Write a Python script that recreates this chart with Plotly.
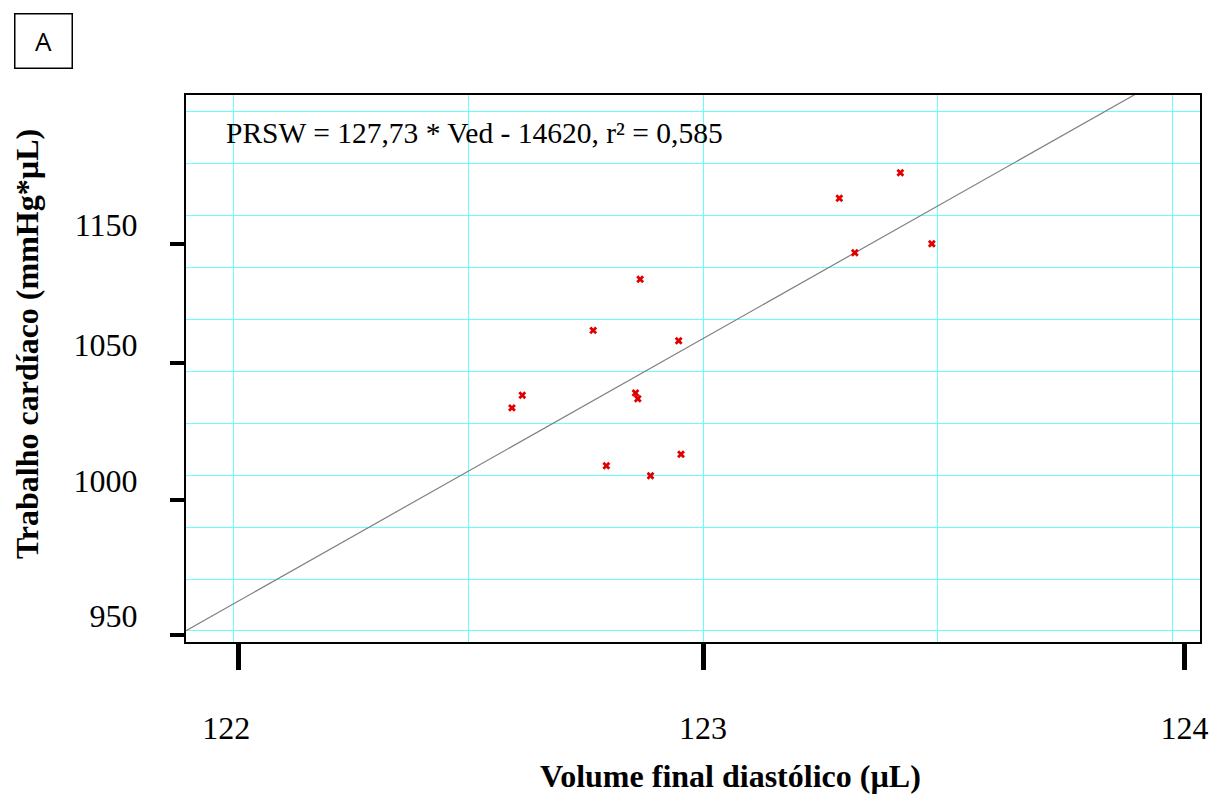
import plotly.graph_objects as go

# ---- data ----
ved = [122.593, 122.615, 122.766, 122.794, 122.856, 122.861, 122.866,
       122.888, 122.948, 122.953, 123.290, 123.323, 123.420, 123.487]
prsw = [1057.4, 1063.5, 1094.7, 1029.5, 1064.6, 1061.8, 1119.3,
        1024.7, 1089.7, 1035.1, 1158.3, 1132.1, 1170.6, 1136.4]

slope = 127.73
intercept = -14620.0
x_range = [121.899, 124.058]
y_range = [944.7, 1208.0]

x_tick_vals = [122.01, 123.0, 124.025]
x_tick_text = ["122\u00a0\u00a0\u00a0", "123", "124"]
y_tick_vals = [948.1, 1013.0, 1078.8, 1136.5]
y_tick_text = ["950", "1000", "1050", "1150"]

equation_text = "PRSW = 127,73 * Ved - 14620, r\u00b2 = 0,585"
x_title = "Volume final diast\u00f3lico (\u00b5L)"
y_title = "Trabalho card\u00edaco (mmHg*\u00b5L)"
panel_label = "A"

line_x = x_range
line_y = [slope * v + intercept for v in line_x]

SERIF = "Liberation Serif, Times New Roman, serif"
GRID = "#66ffff"

# plot-area geometry in pixels (for placing free text)
L, R, T, B = 186, 1207, 95, 642


def px_to_paper(px, py):
    return (px - L) / (R - L), (B - py) / (B - T)


fig = go.Figure()
fig.add_trace(go.Scatter(x=line_x, y=line_y, mode="lines",
                         line=dict(color="#808080", width=1.2),
                         hoverinfo="skip", showlegend=False))
fig.add_trace(go.Scatter(x=ved, y=prsw, mode="markers",
                         marker=dict(symbol="x", size=7, color="#e00000",
                                     line=dict(width=0)),
                         showlegend=False))

fig.update_layout(
    width=1220, height=794,
    margin=dict(l=L, r=1220 - R, t=T, b=794 - B),
    paper_bgcolor="white", plot_bgcolor="white",
    font=dict(family=SERIF, color="black"),
    showlegend=False,
)

fig.update_xaxes(
    range=x_range, showgrid=False, zeroline=False,
    showline=True, linecolor="black", linewidth=2, mirror=True,
    tickmode="array", tickvals=x_tick_vals, ticktext=x_tick_text,
    ticks="outside", ticklen=26, tickwidth=5, tickcolor="black",
    tickfont=dict(family=SERIF, size=32, color="black"),
    ticklabelstandoff=31,
    minor=dict(tick0=122, dtick=0.5, showgrid=True, gridcolor=GRID,
               gridwidth=1, ticks=""),
)
fig.update_yaxes(
    range=y_range, showgrid=False, zeroline=False,
    showline=True, linecolor="black", linewidth=2, mirror=True,
    tickmode="array", tickvals=y_tick_vals, ticktext=y_tick_text,
    ticks="outside", ticklen=14, tickwidth=4, tickcolor="black",
    tickfont=dict(family=SERIF, size=32, color="black"),
    ticklabelstandoff=26, ticklabelshift=-19,
    minor=dict(tick0=950, dtick=25, showgrid=True, gridcolor=GRID,
               gridwidth=1, ticks=""),
)

ex, ey = px_to_paper(224, 133)
fig.add_annotation(
    xref="paper", yref="paper", x=ex, y=ey,
    xanchor="left", yanchor="middle", showarrow=False,
    text=equation_text, font=dict(family=SERIF, size=29.5, color="black"),
)

tx, ty = px_to_paper(734.5, 776)
fig.add_annotation(
    xref="paper", yref="paper", x=tx, y=ty,
    xanchor="center", yanchor="middle", showarrow=False,
    text="<b>" + x_title + "</b>",
    font=dict(family=SERIF, size=32, color="black"),
)

yx, yy = px_to_paper(26, 344)
fig.add_annotation(
    xref="paper", yref="paper", x=yx, y=yy, textangle=-90,
    xanchor="center", yanchor="middle", showarrow=False,
    text="<b>" + y_title + "</b>",
    font=dict(family=SERIF, size=32, color="black"),
)

ax, ay = px_to_paper(43, 40.5)
fig.add_annotation(
    xref="paper", yref="paper", x=ax, y=ay,
    xanchor="center", yanchor="middle", showarrow=False,
    text=panel_label,
    font=dict(family="Open Sans, Liberation Sans, sans-serif", size=26, color="black"),
    bordercolor="black", borderwidth=1.5, width=56, height=53, borderpad=0,
    bgcolor="white",
)

fig.write_html("out.html")
